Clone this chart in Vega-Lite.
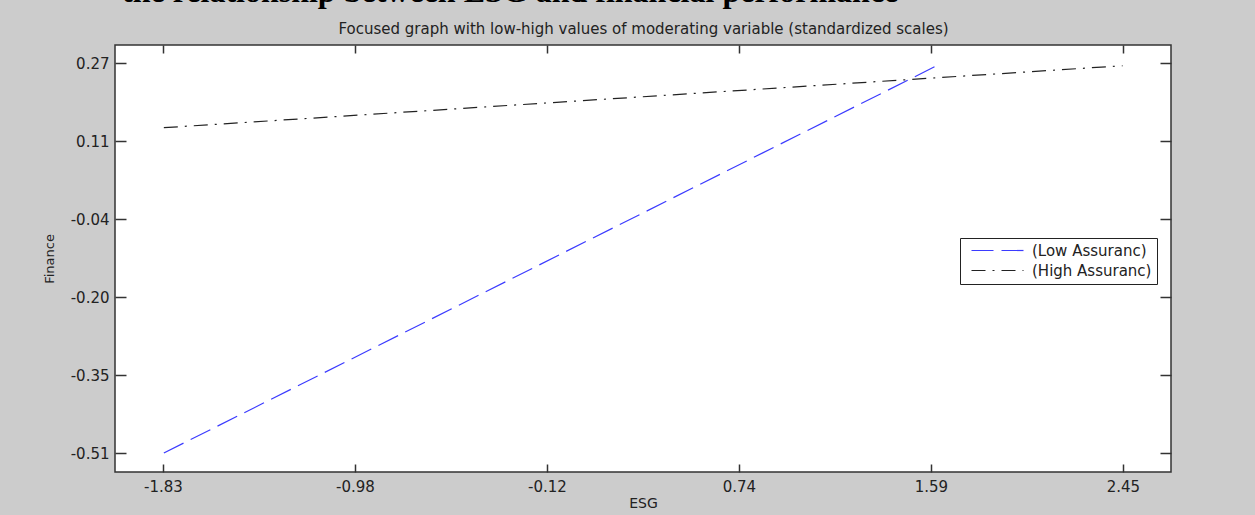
{
  "$schema": "https://vega.github.io/schema/vega-lite/v6.json",
  "width": 1056,
  "height": 427,
  "autosize": {"type": "none"},
  "padding": {"left": 115, "top": 45, "right": 84, "bottom": 43},
  "background": "#cccccc",
  "title": {
    "text": "the relationship between ESG and financial performance",
    "anchor": "start",
    "frame": "group",
    "font": "Liberation Serif",
    "fontWeight": "bold",
    "fontSize": 32,
    "color": "black",
    "dx": 7,
    "offset": 12
  },
  "config": {
    "view": {"fill": "white", "stroke": "#333333", "strokeWidth": 1.5},
    "font": "DejaVu Sans"
  },
  "data": {
    "values": [
      {"series": "(Low Assuranc)", "ESG": -1.83, "Finance": -0.51},
      {"series": "(Low Assuranc)", "ESG": 1.62, "Finance": 0.265},
      {"series": "(High Assuranc)", "ESG": -1.83, "Finance": 0.141},
      {"series": "(High Assuranc)", "ESG": 2.45, "Finance": 0.265}
    ]
  },
  "layer": [
    {
      "mark": {"type": "line", "strokeWidth": 1.2},
      "encoding": {
        "x": {
          "field": "ESG",
          "type": "quantitative",
          "scale": {"domain": [-2.048, 2.666], "nice": false, "zero": false},
          "axis": {
            "orient": "bottom",
            "values": [-1.834, -0.977, -0.12, 0.737, 1.594, 2.451],
            "labelExpr": "replace(format(datum.value, '.2f'), '\u2212', '-')",
            "tickSize": -8,
            "tickColor": "#333333",
            "tickWidth": 1.5,
            "domain": false,
            "grid": false,
            "labelFont": "DejaVu Sans",
            "labelFontSize": 15,
            "labelColor": "#222222",
            "labelPadding": 15,
            "title": "ESG",
            "titleFont": "DejaVu Sans",
            "titleFontSize": 14,
            "titleFontWeight": "normal",
            "titleColor": "#222222",
            "titlePadding": 2
          }
        },
        "y": {
          "field": "Finance",
          "type": "quantitative",
          "scale": {"domain": [-0.548, 0.3065], "nice": false, "zero": false},
          "axis": {
            "orient": "left",
            "values": [-0.51, -0.354, -0.198, -0.042, 0.114, 0.27],
            "labelExpr": "replace(format(datum.value, '.2f'), '\u2212', '-')",
            "tickSize": -11,
            "tickColor": "#333333",
            "tickWidth": 1.5,
            "domain": false,
            "grid": false,
            "labelFont": "DejaVu Sans",
            "labelFontSize": 15,
            "labelColor": "#222222",
            "labelPadding": 17,
            "title": "Finance",
            "titleFont": "DejaVu Sans",
            "titleFontSize": 13,
            "titleFontWeight": "normal",
            "titleColor": "#222222",
            "titlePadding": 14
          }
        },
        "detail": {"field": "series", "type": "nominal"},
        "color": {
          "field": "series",
          "type": "nominal",
          "scale": {"domain": ["(Low Assuranc)", "(High Assuranc)"], "range": ["#3b3bff", "#222222"]},
          "legend": {
            "title": null,
            "orient": "none",
            "legendX": 845,
            "legendY": 193,
            "direction": "vertical",
            "fillColor": "white",
            "strokeColor": "#222222",
            "padding": 5,
            "symbolType": "M-4,0H4",
            "symbolSize": 169,
            "symbolStrokeWidth": 1.2,
            "symbolOffset": 25,
            "labelFont": "DejaVu Sans",
            "labelFontSize": 15,
            "labelColor": "#222222",
            "labelOffset": 27,
            "rowPadding": 4,
            "labelLimit": 300
          }
        },
        "strokeDash": {
          "field": "series",
          "type": "nominal",
          "scale": {"domain": ["(Low Assuranc)", "(High Assuranc)"], "range": [[22, 8], [14, 7, 2, 7]]},
          "legend": {
            "title": null,
            "orient": "none",
            "legendX": 845,
            "legendY": 193,
            "direction": "vertical",
            "fillColor": "white",
            "strokeColor": "#222222",
            "padding": 5,
            "symbolType": "M-4,0H4",
            "symbolSize": 169,
            "symbolStrokeWidth": 1.2,
            "symbolOffset": 25,
            "labelFont": "DejaVu Sans",
            "labelFontSize": 15,
            "labelColor": "#222222",
            "labelOffset": 27,
            "rowPadding": 4,
            "labelLimit": 300
          }
        }
      }
    },
    {
      "mark": {"type": "line", "opacity": 0},
      "encoding": {
        "x": {
          "field": "ESG",
          "type": "quantitative",
          "axis": {
            "orient": "top",
            "values": [-1.834, -0.977, -0.12, 0.737, 1.594, 2.451],
            "tickSize": -8,
            "tickColor": "#333333",
            "tickWidth": 1.5,
            "labels": false,
            "domain": false,
            "grid": false,
            "title": "Focused graph with low-high values of moderating variable (standardized scales)",
            "titleFont": "DejaVu Sans",
            "titleFontSize": 15,
            "titleFontWeight": "normal",
            "titleColor": "#222222",
            "titlePadding": 8
          }
        },
        "y": {
          "field": "Finance",
          "type": "quantitative",
          "axis": {
            "orient": "right",
            "values": [-0.51, -0.354, -0.198, -0.042, 0.114, 0.27],
            "tickSize": -11,
            "tickColor": "#333333",
            "tickWidth": 1.5,
            "labels": false,
            "domain": false,
            "grid": false,
            "title": null
          }
        },
        "detail": {"field": "series", "type": "nominal"}
      }
    }
  ],
  "resolve": {"axis": {"x": "independent", "y": "independent"}}
}
